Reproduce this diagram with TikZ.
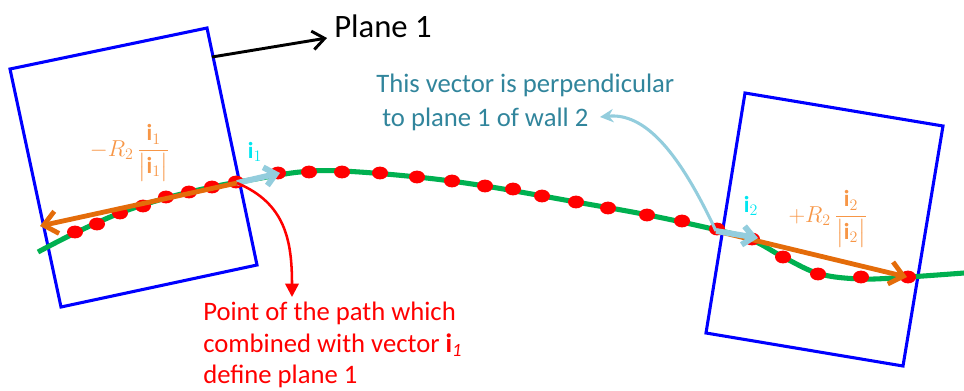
\documentclass[tikz,border=0pt]{standalone}
\usepackage{amsmath}
\usepackage{amssymb}
\usepackage{fontspec}
\setmainfont{Carlito}
\usetikzlibrary{arrows.meta}

\definecolor{wallblue}{RGB}{0,0,255}
\definecolor{pathgreen}{RGB}{0,176,80}
\definecolor{dotred}{RGB}{255,0,0}
\definecolor{vecorange}{RGB}{228,108,10}
\definecolor{txtorange}{RGB}{247,150,70}
\definecolor{veclight}{RGB}{147,205,221}
\definecolor{txtteal}{RGB}{49,133,156}
\definecolor{txtcyan}{RGB}{0,230,240}

\tikzset{
  wall/.style={draw=wallblue,line width=2.3pt,line join=miter},
  pathline/.style={draw=pathgreen,line width=3.8pt},
  radvec/.style={draw=vecorange,line width=3.6pt,-{Straight Barb[length=10pt,width=17pt]}},
  normvec/.style={draw=veclight,line width=4.4pt,-{Straight Barb[length=8pt,width=14pt]}},
  veclabel/.style={text=txtcyan,font=\fontsize{17.28}{21}\selectfont},
  radlabel/.style={text=txtorange,font=\fontsize{17.28}{21}\selectfont},
}

\begin{document}
\begin{tikzpicture}[x=0.75pt,y=-0.75pt]
  \useasboundingbox (0,0) rectangle (964,390);

  % walls
  \draw[wall] (10,69)--(207,28)--(257,265)--(61,307)--cycle;
  \draw[wall] (745,93)--(943,126)--(903,366)--(706,333)--cycle;

  % path and its points
  \draw[pathline] plot[smooth,tension=0.6] coordinates {(38,252) (75,233) (120,213) (166,198) (212,187)
    (250,180) (300,172) (342,171) (417,177) (485,186) (576,202) (648,215) (717,230) (752,240)
    (785,258) (820,274) (862,279) (908,277) (964,273)};
  \foreach \p in {(75,232),(97,224),(120,213),(143,206),(166,197),(189,192),(212,187),(236,182),
    (278,173),(309,172),(342,172),(380,173),(417,177),(452,181),(485,186),(513,189),(542,196),
    (576,202),(608,208),(647,215),(682,221),(717,229),(752,239),(783,257),(818,274),(861,277),(908,277)}
    \fill[dotred] \p ellipse[x radius=6pt,y radius=4.8pt];

  \coordinate (p1) at (237,183);
  \coordinate (q1) at (280,173);
  \coordinate (r1) at (40,226);
  \coordinate (p2) at (716,231);
  \coordinate (q2) at (758,238);
  \coordinate (r2) at (907,277);

  % vectors
  \draw[radvec] (p1) -- (r1);
  \draw[radvec] (p2) -- (r2);
  \draw[normvec] (p1) -- (q1);
  \draw[normvec] (p2) -- (q2);

  \node[veclabel] (i1) at (255,152) {$\mathbf{i}_1$};
  \node[veclabel] (i2) at (751,206) {$\mathbf{i}_2$};
  \node[radlabel] (rad1) at (130,153) {$\displaystyle -R_2\,\frac{\mathbf{i}_1}{\bigl|\mathbf{i}_1\bigr|}$};
  \node[radlabel] (rad2) at (828,219) {$\displaystyle +R_2\,\frac{\mathbf{i}_2}{\bigl|\mathbf{i}_2\bigr|}$};

  % annotations
  \node[anchor=north west,inner sep=0pt,font=\fontsize{24.5}{29}\selectfont] (plane) at (334,15) {Plane 1};
  \coordinate (w1) at (212,57);
  \coordinate (plane tip) at (327,38);
  \draw[line width=2.2pt,-{Straight Barb[length=9pt,width=14pt]}] (w1) -- (plane tip);

  \node[anchor=north west,inner sep=0pt,align=left,text=txtteal,font=\fontsize{20}{25}\selectfont]
    (perp) at (376,74) {This vector is perpendicular\\\hspace*{4.5pt}to plane 1 of wall 2};
  \coordinate (perp tip) at (600,117);
  \draw[veclight,line width=2.3pt,-{Stealth[length=10pt,width=10pt]}]
    (p2) .. controls (685,165) and (650,112) .. (perp tip);

  \node[anchor=north west,inner sep=0pt,align=left,text=dotred,font=\fontsize{20}{23.5}\selectfont]
    (point) at (203,302) {Point of the path which\\combined with vector \textbf{i}\textsubscript{\textit{1}}\\define plane 1};
  \coordinate (point tip) at (292,297);
  \draw[dotred,line width=1.9pt,-{Triangle[length=10pt,width=10pt]}]
    (p1) .. controls (285,203) and (292,240) .. (point tip);
\end{tikzpicture}
\end{document}
